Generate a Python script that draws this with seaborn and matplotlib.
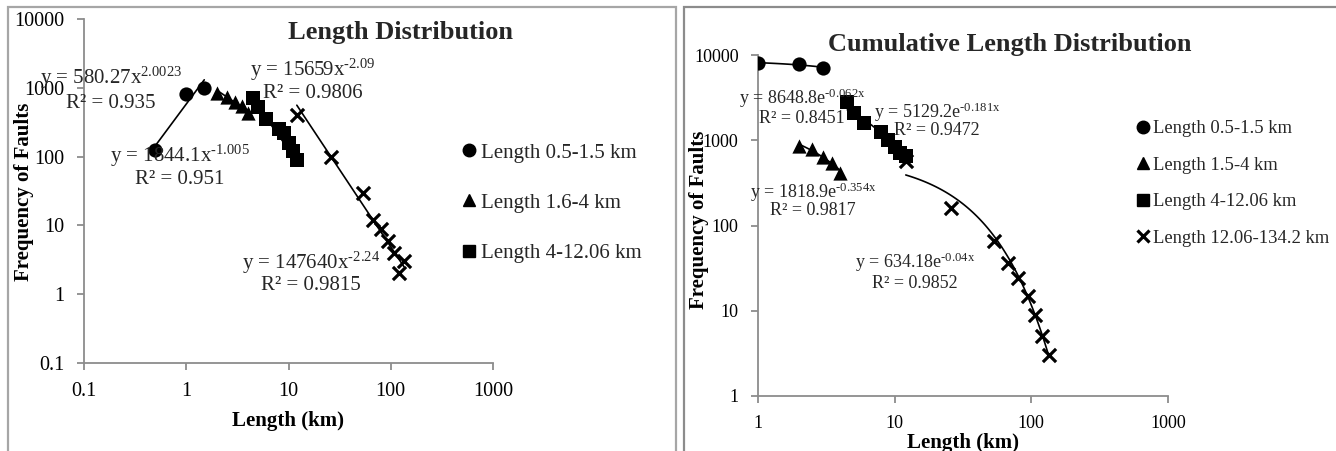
import numpy as np
import pandas as pd
import matplotlib
matplotlib.use("Agg")
import matplotlib.pyplot as plt
from matplotlib.patches import Rectangle
from matplotlib.lines import Line2D
import seaborn as sns

sns.set_theme(style="white")
plt.rcParams["font.family"] = ["Liberation Serif", "DejaVu Serif"]
plt.rcParams["mathtext.fontset"] = "custom"
plt.rcParams["mathtext.rm"] = "Liberation Serif"
plt.rcParams["mathtext.it"] = "Liberation Serif:italic"
plt.rcParams["mathtext.bf"] = "Liberation Serif:bold"

# ---- fault length classes ----
circle_x_left = [0.5, 1, 1.5]
circle_y_left = [125, 800, 1000]
triangle_x = [2, 2.5, 3, 3.5, 4]
triangle_y_left = [830, 740, 620, 540, 430]
square_x = [4.5, 5, 6, 8, 9, 10, 11, 12.06]
square_y_left = [700, 520, 350, 250, 220, 160, 120, 90]
cross_x = [12.06, 26, 53, 67, 80, 94, 107, 120, 134.2]
cross_y_left = [400, 100, 30, 12, 9, 6, 4, 2, 3]

circle_x_right = [1, 2, 3]
circle_y_right = [8000, 7800, 7000]
triangle_y_right = [850, 790, 630, 540, 410]
square_y_right = [2800, 2090, 1590, 1245, 1000, 830, 710, 650]
cross_y_right = [566, 162, 66, 36, 24, 15, 9, 5, 3]

# trendline coefficients (power law on the left, exponential on the right)
power_a = [580.27, 1844.1, 15659, 147640]
power_b = [2.0023, -1.005, -2.09, -2.24]
power_r2 = ["0.935", "0.951", "0.9806", "0.9815"]
power_b_text = ["2.0023", "-1.005", "-2.09", "-2.24"]
power_a_text = ["580.27", "1844.1", "15659", "147640"]

exp_a = [8648.8, 1818.9, 5129.2, 634.18]
exp_b = [-0.062, -0.354, -0.181, -0.04]
exp_r2 = ["0.8451", "0.9817", "0.9472", "0.9852"]
exp_b_text = ["-0.062x", "-0.354x", "-0.181x", "-0.04x"]
exp_a_text = ["8648.8", "1818.9", "5129.2", "634.18"]

labels_left = ["Length 0.5-1.5 km", "Length 1.6-4 km", "Length 4-12.06 km", "Length 12.06-134.2 km"]
labels_right = ["Length 0.5-1.5 km", "Length 1.5-4 km", "Length 4-12.06 km", "Length 12.06-134.2 km"]

yticks_left = [0.1, 1, 10, 100, 1000, 10000]
yticklabels_left = ["0.1", "1", "10", "100", "1000", "10000"]
xticks_left = [0.1, 1, 10, 100, 1000]
xticklabels_left = ["0.1", "1", "10", "100", "1000"]
yticks_right = [1, 10, 100, 1000, 10000]
yticklabels_right = ["1", "10", "100", "1000", "10000"]
xticks_right = [1, 10, 100, 1000]
xticklabels_right = ["1", "10", "100", "1000"]

W, H = 1336, 451
fig = plt.figure(figsize=(W / 100, H / 100), dpi=100)
fig.patch.set_facecolor("white")

def fx(px):
    return px / W

def fy(py):
    return 1 - py / H

# panel frames
fig.add_artist(Rectangle((fx(8), fy(470)), fx(676 - 8), (470 - 7) / H, transform=fig.transFigure,
                         fill=False, edgecolor="#a6a6a6", linewidth=1.6))
fig.add_artist(Rectangle((fx(684), fy(470)), fx(1400 - 684), (470 - 7) / H, transform=fig.transFigure,
                         fill=False, edgecolor="#8c8c8c", linewidth=1.6))

ax_l = fig.add_axes([fx(84), fy(363), fx(493 - 84), (363 - 19) / H])
ax_r = fig.add_axes([fx(758), fy(396), fx(1168 - 758), (396 - 55) / H])

def style_axes(ax, xt, xtl, yt, ytl, xlim, ylim, tick_fs, lab_fs):
    ax.set_xscale("log")
    ax.set_yscale("log")
    ax.set_xlim(*xlim)
    ax.set_ylim(*ylim)
    ax.set_xticks(xt)
    ax.set_xticklabels(xtl)
    ax.set_yticks(yt)
    ax.set_yticklabels(ytl)
    ax.minorticks_off()
    for s in ["top", "right"]:
        ax.spines[s].set_visible(False)
    for s in ["left", "bottom"]:
        ax.spines[s].set_color("#8c8c8c")
        ax.spines[s].set_linewidth(1.3)
    ax.tick_params(axis="both", which="major", direction="out", length=5, width=1.3,
                   color="#8c8c8c", labelsize=tick_fs, labelcolor="black", pad=9,
                   bottom=True, left=True)
    ax.set_facecolor("none")
    ax.set_xlabel("Length (km)", fontsize=lab_fs, fontweight="bold", color="black")
    ax.set_ylabel("Frequency of Faults", fontsize=lab_fs, fontweight="bold", color="black")

def draw_group(ax, x, y, marker, func, a, b):
    xs = np.geomspace(min(x), max(x), 80)
    line_df = pd.DataFrame({"x": xs, "y": func(a, b, xs)})
    sns.lineplot(data=line_df, x="x", y="y", ax=ax, color="black", linewidth=1.2,
                 zorder=2, legend=False)
    pts = pd.DataFrame({"x": x, "y": y})
    if marker == "x":
        sns.scatterplot(data=pts, x="x", y="y", ax=ax, marker="x", s=90, color="black",
                        linewidth=2.3, zorder=3, legend=False)
    else:
        sns.scatterplot(data=pts, x="x", y="y", ax=ax, marker=marker, s=105, color="black",
                        edgecolor="black", linewidth=0, zorder=3, legend=False)

power = lambda a, b, x: a * np.power(x, b)
expo = lambda a, b, x: a * np.exp(b * x)

# ---- left: length distribution ----
groups_left = [(circle_x_left, circle_y_left, "o"), (triangle_x, triangle_y_left, "^"),
               (square_x, square_y_left, "s"), (cross_x, cross_y_left, "x")]
for i, (x, y, m) in enumerate(groups_left):
    draw_group(ax_l, x, y, m, power, power_a[i], power_b[i])

style_axes(ax_l, xticks_left, xticklabels_left, yticks_left, yticklabels_left,
           (0.1, 1000), (0.1, 10000), 14.5, 15)

# ---- right: cumulative length distribution ----
groups_right = [(circle_x_right, circle_y_right, "o"), (triangle_x, triangle_y_right, "^"),
                (square_x, square_y_right, "s"), (cross_x, cross_y_right, "x")]
for i, (x, y, m) in enumerate(groups_right):
    draw_group(ax_r, x, y, m, expo, exp_a[i], exp_b[i])

style_axes(ax_r, xticks_right, xticklabels_right, yticks_right, yticklabels_right,
           (1, 1000), (1, 10000), 13, 15)

ax_l.xaxis.set_label_coords(0.5, (363 - 411) / 344)
ax_l.yaxis.set_label_coords((34 - 84) / 409, (363 - 192) / 344)
ax_r.xaxis.set_label_coords(0.5, (396 - 433) / 341)
ax_r.yaxis.set_label_coords((709 - 758) / 410, (396 - 220) / 341)

# titles
fig.text(fx(401), fy(33), "Length Distribution", ha="center", va="center",
         fontsize=19, fontweight="bold")
fig.text(fx(1010), fy(45), "Cumulative Length Distribution", ha="center", va="center",
         fontsize=19, fontweight="bold")

# trendline equations
eq_pos_left = [(111, 78, 104), (180, 156, 180), (313, 70, 93), (311, 263, 285)]
for i, (cx, y1, y2) in enumerate(eq_pos_left):
    fig.text(fx(cx), fy(y1), "y = %sx$^{\\text{%s}}$" % (power_a_text[i], power_b_text[i]),
             ha="center", va="center", fontsize=15)
    fig.text(fx(cx), fy(y2), "R² = %s" % power_r2[i], ha="center", va="center", fontsize=15)

eq_pos_right = [(802, 98, 118), (813, 192, 211), (937, 112, 130), (915, 262, 283)]
for i, (cx, y1, y2) in enumerate(eq_pos_right):
    fig.text(fx(cx), fy(y1), "y = %se$^{\\text{%s}}$" % (exp_a_text[i], exp_b_text[i]),
             ha="center", va="center", fontsize=13)
    fig.text(fx(cx), fy(y2), "R² = %s" % exp_r2[i], ha="center", va="center", fontsize=13)

# legends
def legend_handles(markers):
    hs = []
    for m in markers:
        if m == "x":
            hs.append(Line2D([], [], marker="x", color="black", linestyle="none",
                             markersize=8, markeredgewidth=2.3))
        else:
            hs.append(Line2D([], [], marker=m, color="black", linestyle="none", markersize=9))
    return hs

leg_l = fig.legend(handles=legend_handles(["o", "^", "s"]), labels=labels_left[:3],
                   loc="upper left", bbox_to_anchor=(fx(462), fy(143)), frameon=False,
                   fontsize=15, handlelength=0.7, handletextpad=0.2, labelspacing=1.47,
                   borderpad=0, borderaxespad=0)
leg_r = fig.legend(handles=legend_handles(["o", "^", "s", "x"]), labels=labels_right,
                   loc="upper left", bbox_to_anchor=(fx(1136), fy(120)), frameon=False,
                   fontsize=13.4, handlelength=0.7, handletextpad=0.2, labelspacing=1.05,
                   borderpad=0, borderaxespad=0)

fig.savefig("out.png", dpi=100, facecolor="white")
